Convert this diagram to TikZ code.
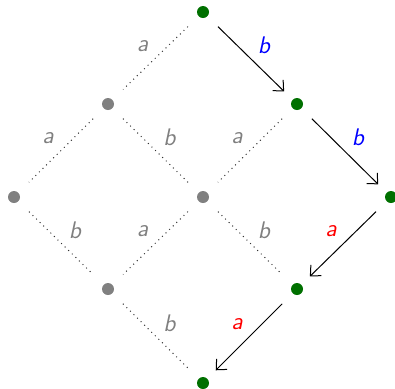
\documentclass[tikz,border=0pt]{standalone}
\usetikzlibrary{arrows.meta}
\definecolor{dkgreen}{RGB}{0,112,0}
\begin{document}
\begin{tikzpicture}[x=0.5pt,y=-0.5pt,
  gdot/.style={circle,fill=dkgreen,inner sep=0pt,minimum size=6pt},
  pdot/.style={circle,fill=gray,inner sep=0pt,minimum size=6pt},
  dotline/.style={dotted,line width=0.5pt,black!80,shorten <=7.3pt,shorten >=7.3pt},
  arr/.style={-{Straight Barb[length=4pt,width=7.5pt]},line width=0.5pt,black,shorten <=7.3pt,shorten >=5.8pt},
  lbl/.style={font=\fontsize{12}{14}\selectfont\sffamily\itshape,inner sep=0pt},
  lblL/.style={lbl,midway,xshift=-6.5pt,yshift=6pt},
  lblR/.style={lbl,midway,xshift=7pt,yshift=6.5pt}]
\useasboundingbox (0,0) rectangle (395,388);
\node[gdot] (T) at (203,12) {};
\node[pdot] (L1) at (108,104) {};
\node[gdot] (R1) at (297,104) {};
\node[pdot] (L2) at (14,197) {};
\node[pdot] (C) at (203,197) {};
\node[gdot] (R2) at (391,197) {};
\node[pdot] (L3) at (108,289) {};
\node[gdot] (R3) at (297,289) {};
\node[gdot] (B) at (203,383) {};
\draw[dotline] (T) -- (L1) node[lblL,gray] {a};
\draw[dotline] (L1) -- (L2) node[lblL,gray] {a};
\draw[dotline] (L1) -- (C) node[lblR,gray] {b};
\draw[dotline] (R1) -- (C) node[lblL,gray] {a};
\draw[dotline] (L2) -- (L3) node[lblR,gray] {b};
\draw[dotline] (C) -- (L3) node[lblL,gray] {a};
\draw[dotline] (C) -- (R3) node[lblR,gray] {b};
\draw[dotline] (L3) -- (B) node[lblR,gray] {b};
\draw[arr] (T) -- (R1) node[lblR,blue] {b};
\draw[arr] (R1) -- (R2) node[lblR,blue] {b};
\draw[arr] (R2) -- (R3) node[lblL,red] {a};
\draw[arr] (R3) -- (B) node[lblL,red] {a};
\end{tikzpicture}
\end{document}
